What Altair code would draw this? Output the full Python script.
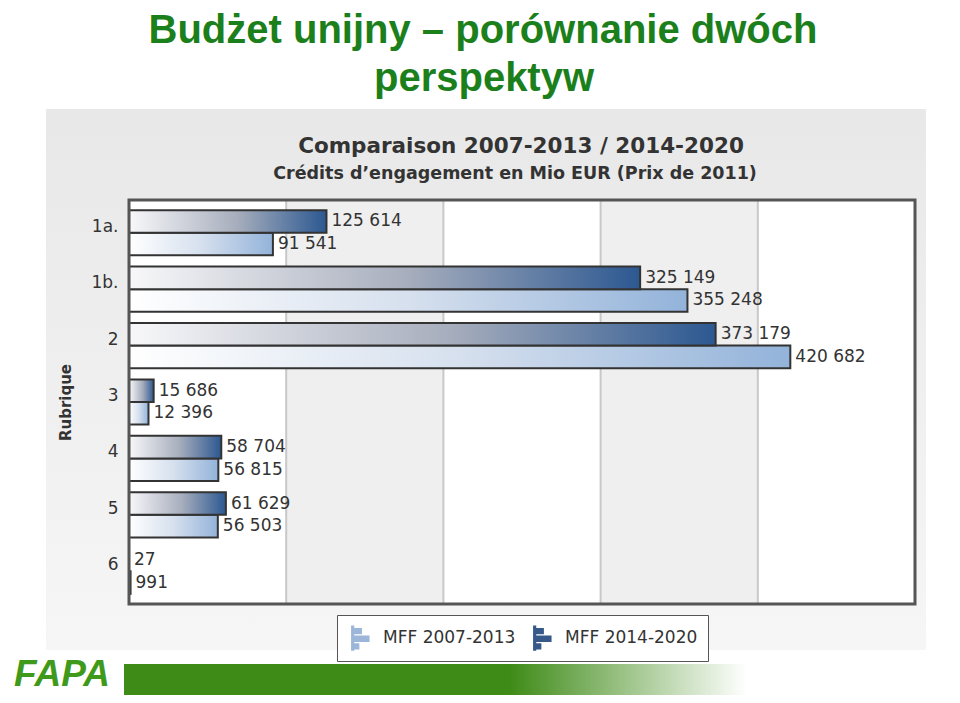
import altair as alt
import pandas as pd

# ---- data ----
categories = ["1a.", "1b.", "2", "3", "4", "5", "6"]
mff_2007_2013 = [91541, 355248, 420682, 12396, 56815, 56503, 991]
mff_2014_2020 = [125614, 325149, 373179, 15686, 58704, 61629, 27]
series_names = ["MFF 2007-2013", "MFF 2014-2020"]
gray_band_starts = [100000, 300000]
grid_values = [100000, 200000, 300000, 400000]
x_max = 500000

slide_title_1 = "Budżet unijny – porównanie dwóch"
slide_title_2 = "perspektyw"
chart_title = "Comparaison 2007-2013 / 2014-2020"
chart_subtitle = "Crédits d’engagement en Mio EUR (Prix de 2011)"
axis_title = "Rubrique"

W, H = 786, 404

rows = []
for c, a, b in zip(categories, mff_2007_2013, mff_2014_2020):
    rows.append({"cat": c, "series": series_names[0], "value": a})
    rows.append({"cat": c, "series": series_names[1], "value": b})
df = pd.DataFrame(rows)
df["label"] = df["value"].map(lambda v: f"{v:,}".replace(",", " "))
df["zero"] = 0

bands = pd.DataFrame({"start": gray_band_starts,
                      "end": [s + 100000 for s in gray_band_starts]})
grid = pd.DataFrame({"g": grid_values})
one = pd.DataFrame({"k": [0]})

xscale = alt.Scale(domain=[0, x_max], nice=False, zero=True)
yscale = alt.Scale(domain=categories, paddingInner=0.2, paddingOuter=0.18)
yoff = alt.YOffset("series:N", scale=alt.Scale(domain=[series_names[1], series_names[0]]))

FONT = "DejaVu Sans"
TXT = "#333333"


def grad(stops, vertical=False):
    return alt.LinearGradient(
        gradient="linear",
        stops=[alt.GradientStop(offset=o, color=c) for o, c in stops],
        x1=0, y1=0, x2=0 if vertical else 1, y2=1 if vertical else 0)


# decorative panel behind the chart
panel = alt.Chart(one).mark_rect(
    color=grad([(0, "#e8e8e8"), (1, "#f6f6f6")], vertical=True)
).encode(x=alt.value(-83), x2=alt.value(797), y=alt.value(-91), y2=alt.value(450))

plot_bg = alt.Chart(one).mark_rect(color="#ffffff").encode(
    x=alt.value(0), x2=alt.value(W), y=alt.value(0), y2=alt.value(H))

band_layer = alt.Chart(bands).mark_rect(color="#efefef").encode(
    x=alt.X("start:Q", scale=xscale, axis=None),
    x2="end:Q",
    y=alt.value(0), y2=alt.value(H),
)

grid_layer = alt.Chart(grid).mark_rule(color="#c8c8c8", strokeWidth=2).encode(
    x=alt.X("g:Q", scale=xscale, axis=None),
    y=alt.value(0), y2=alt.value(H),
)

dark_grad = grad([(0, "#f8f8fa"), (0.55, "#a6adbc"), (1, "#2c5891")])
light_grad = grad([(0, "#ffffff"), (0.5, "#d6e0ee"), (1, "#93b3da")])

yenc = alt.Y("cat:N", sort=categories, scale=yscale,
             axis=alt.Axis(title=axis_title, domain=False, ticks=False, tickSize=0,
                           zindex=2,
                           labelFont=FONT, labelFontSize=17, labelColor=TXT,
                           labelPadding=11, labelOffset=-6,
                           titleFont=FONT, titleFontSize=15, titleFontWeight="bold",
                           titleColor=TXT, titleAngle=270, titleX=-59, titleY=202,
                           titleAlign="center", titleBaseline="alphabetic"))

bars_old = alt.Chart(df).transform_filter(
    alt.datum.series == series_names[0]
).mark_bar(color=light_grad, stroke="#333333", strokeWidth=2).encode(
    x=alt.X("value:Q", scale=xscale, axis=None), y=yenc, yOffset=yoff)

bars_new = alt.Chart(df).transform_filter(
    alt.datum.series == series_names[1]
).mark_bar(color=dark_grad, stroke="#333333", strokeWidth=2).encode(
    x=alt.X("value:Q", scale=xscale, axis=None), y=yenc, yOffset=yoff)

icon = ("M-0.7,-1H-0.45V1H-0.7Z M-0.45,-0.8H0.15V-0.3H-0.45Z "
        "M-0.45,-0.2H0.75V0.3H-0.45Z M-0.45,0.4H-0.05V0.9H-0.45Z")

legend_layer = alt.Chart(df).mark_bar(strokeWidth=0).encode(
    x=alt.X("zero:Q", scale=xscale, axis=None), x2="zero:Q",
    y=yenc, yOffset=yoff,
    color=alt.Color("series:N",
                    scale=alt.Scale(domain=series_names, range=["#9bb6d8", "#36598a"]),
                    legend=alt.Legend(title=None, orient="none", legendX=208, legendY=415,
                                      direction="horizontal", fillColor="#ffffff",
                                      strokeColor="#555555", padding=10,
                                      symbolType=icon, symbolSize=650,
                                      symbolStrokeWidth=0, labelFont=FONT,
                                      labelFontSize=17, labelColor=TXT,
                                      labelOffset=10, columnPadding=13)),
)

labels = alt.Chart(df).mark_text(align="left", baseline="middle", dx=5,
                                 font=FONT, fontSize=17, color=TXT).encode(
    x=alt.X("value:Q", scale=xscale, axis=None), y=yenc, yOffset=yoff,
    text="label:N")

frame = alt.Chart(one).mark_rect(fill="transparent", stroke="#555555", strokeWidth=3).encode(
    x=alt.value(0), x2=alt.value(W), y=alt.value(0), y2=alt.value(H))


def txt(s, x, y, **kw):
    return alt.Chart(one).mark_text(align="center", baseline="alphabetic", **kw).encode(
        x=alt.value(x), y=alt.value(y), text=alt.value(s))


t_main = txt(chart_title, 392, -47, font=FONT, fontSize=21.5, fontWeight="bold", color=TXT)
t_sub = txt(chart_subtitle, 386, -21, font=FONT, fontSize=17.5, fontWeight="bold", color=TXT)
t_slide1 = txt(slide_title_1, 354, -157, font="Liberation Sans", fontSize=40,
               fontWeight="bold", color="#1b801b")
t_slide2 = txt(slide_title_2, 355, -109, font="Liberation Sans", fontSize=40,
               fontWeight="bold", color="#1b801b")

green_band = alt.Chart(one).mark_rect(
    color=grad([(0, "#3f8b18"), (0.62, "#3f8b18"), (1, "#ffffff")])
).encode(x=alt.value(-5), x2=alt.value(618), y=alt.value(464), y2=alt.value(495))
logo = txt("FAPA", -67, 486, font="Liberation Sans", fontSize=37, fontWeight="bold",
           fontStyle="italic", color="#3f9a1c")

chart = alt.layer(
    panel, plot_bg, band_layer, grid_layer, legend_layer, bars_old, bars_new, labels,
    frame, t_main, t_sub, t_slide1, t_slide2, green_band, logo
).properties(
    width=W, height=H,
    autosize=alt.AutoSizeParams(type="none"),
    padding={"left": 121, "top": 192, "right": 37, "bottom": 91},
    background="#ffffff",
).configure_view(strokeWidth=0)

chart.save("out.html", embed_options={"renderer": "svg", "actions": False})
